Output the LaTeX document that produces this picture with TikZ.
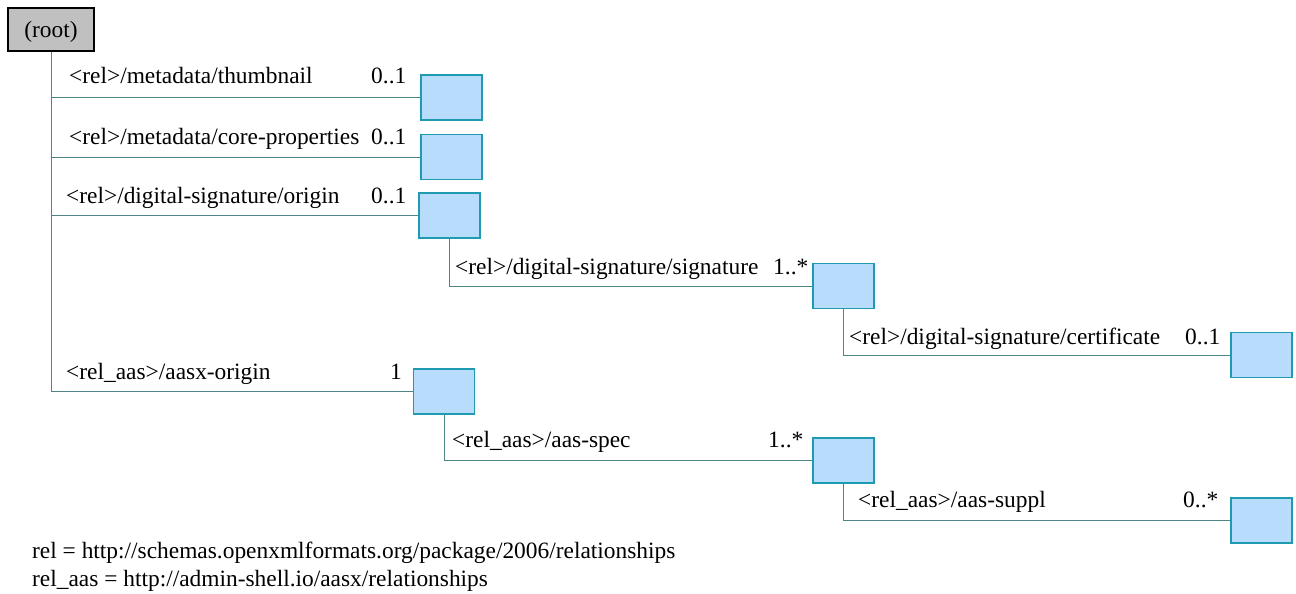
\documentclass[tikz,border=0pt]{standalone}
\usepackage{fontspec}
\setmainfont{Liberation Serif}
\definecolor{boxfill}{HTML}{B8DCFC}
\definecolor{boxline}{HTML}{1E9BB0}
\definecolor{connline}{HTML}{4F8589}
\definecolor{rootfill}{HTML}{C0C0C0}
\begin{document}
\begin{tikzpicture}[x=1pt,y=-1pt,
  font=\fontsize{23.4}{26}\selectfont,
  elem/.style={draw=boxline,fill=boxfill,line width=1.2pt,minimum width=61pt,minimum height=45pt,inner sep=0pt},
  rootbox/.style={draw=black,fill=rootfill,line width=1.2pt,minimum width=86pt,minimum height=43pt,inner sep=0pt},
  conn/.style={draw=connline,line width=1pt},
  lbl/.style={anchor=base west,inner sep=0pt}]
\useasboundingbox (0,0) rectangle (1296,594);
\node[rootbox] (root) at (51,29.5) {};
\node[lbl,anchor=base] (rt) at (51,38) {(root)};
\node[elem] (b1) at (451.5,97.5) {};
\node[elem] (b2) at (451.5,157) {};
\node[elem] (b3) at (449.5,215.5) {};
\node[elem] (b4) at (843.5,286) {};
\node[elem] (b5) at (1261.5,355) {};
\node[elem] (b6) at (444,391.5) {};
\node[elem] (b7) at (843.5,460.5) {};
\node[elem] (b8) at (1261.5,520.5) {};
\draw[conn] (root.south) |- (b6.west);
\draw[conn] (root.south) |- (b1.west);
\draw[conn] (root.south) |- (b2.west);
\draw[conn] (root.south) |- (b3.west);
\draw[conn] (b3.south) |- (b4.west);
\draw[conn] (b4.south) |- (b5.west);
\draw[conn] (b6.south) |- (b7.west);
\draw[conn] (b7.south) |- (b8.west);
\node[lbl] (t1) at (69,84) {<rel>/metadata/thumbnail};
\node[lbl] (m1) at (371,84) {0..1};
\node[lbl] (t2) at (69,144) {<rel>/metadata/core-properties};
\node[lbl] (m2) at (371,144) {0..1};
\node[lbl] (t3) at (66,203) {<rel>/digital-signature/origin};
\node[lbl] (m3) at (371,203) {0..1};
\node[lbl] (t4) at (455,274) {<rel>/digital-signature/signature};
\node[lbl] (m4) at (773,274) {1..*};
\node[lbl] (t5) at (849,344) {<rel>/digital-signature/certificate};
\node[lbl] (m5) at (1185,344) {0..1};
\node[lbl] (t6) at (66,379) {<rel\_aas>/aasx-origin};
\node[lbl] (m6) at (390,379) {1};
\node[lbl] (t7) at (452,447) {<rel\_aas>/aas-spec};
\node[lbl] (m7) at (768,447) {1..*};
\node[lbl] (t8) at (858,507) {<rel\_aas>/aas-suppl};
\node[lbl] (m8) at (1183,507) {0..*};
\node[lbl] (f1) at (32,558) {rel = http://schemas.openxmlformats.org/package/2006/relationships};
\node[lbl] (f2) at (32,586) {rel\_aas = http://admin-shell.io/aasx/relationships};
\end{tikzpicture}
\end{document}
